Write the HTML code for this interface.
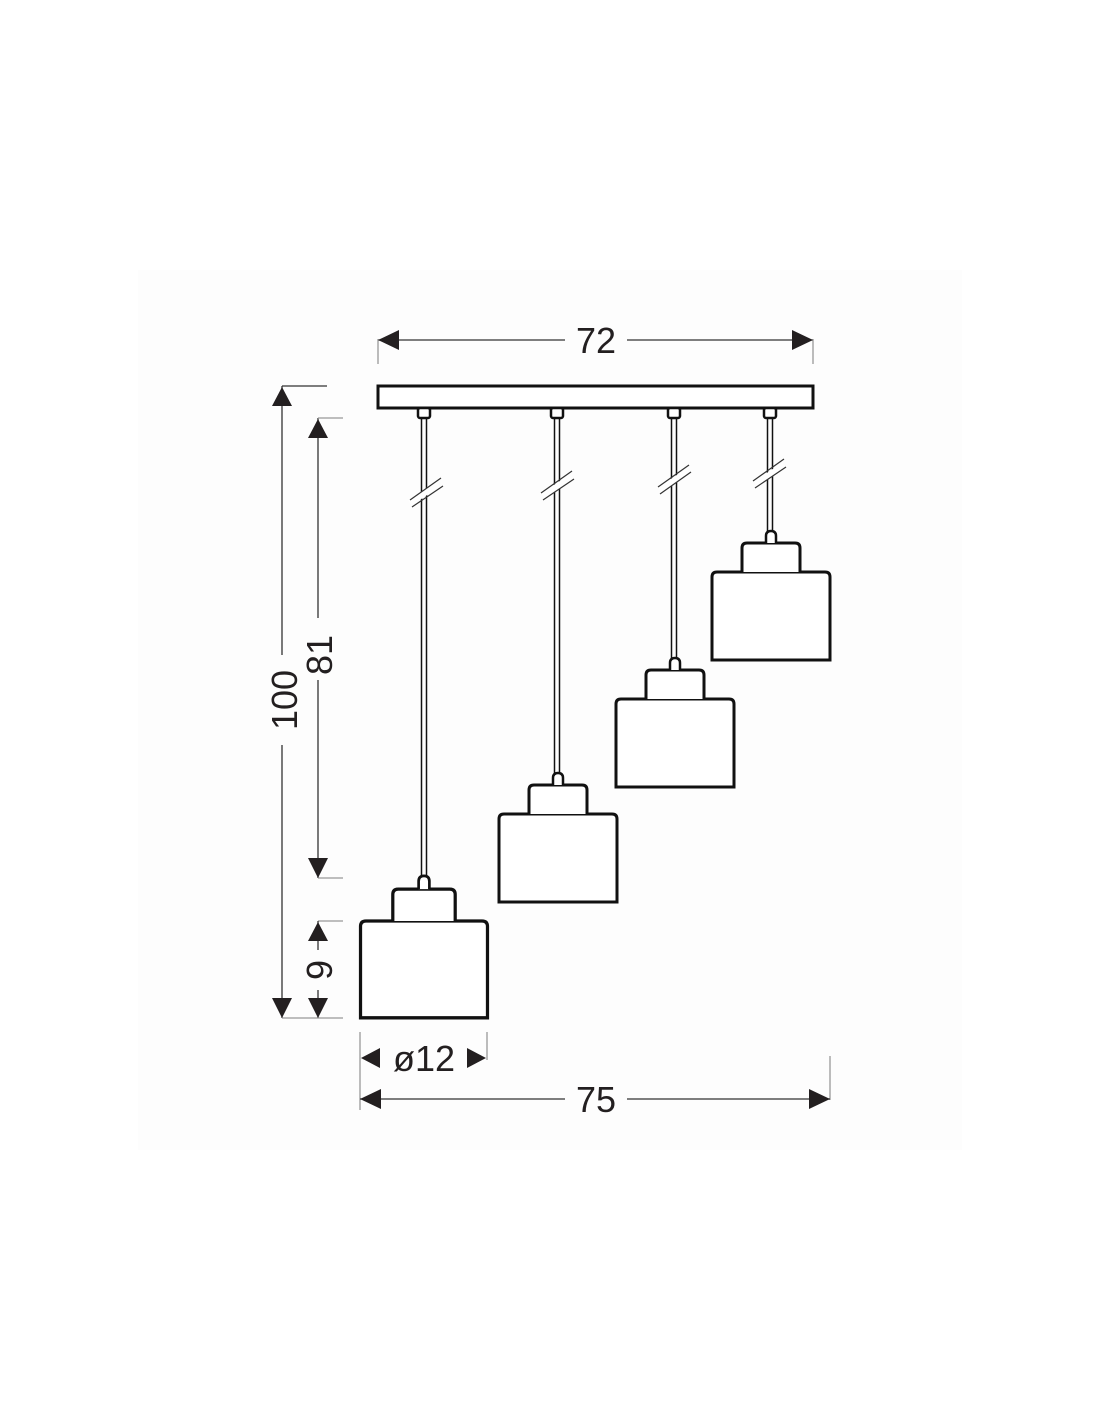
<!DOCTYPE html>
<html><head><meta charset="utf-8"><style>html,body{margin:0;padding:0;background:#fff}svg{display:block}text{font-family:"Liberation Sans",sans-serif;fill:#231f20}</style></head>
<body>
<svg width="1100" height="1422" viewBox="0 0 1100 1422" xmlns="http://www.w3.org/2000/svg">
<rect x="138" y="270" width="824" height="880" fill="#fdfdfd"/>
<defs>
<g id="lamp" fill="#fff" stroke="#111" stroke-width="3">
<!-- body width 118 centered at 0, top at 0, height 88 -->
<path d="M-59,88 V5 Q-59,0 -54,0 H54 Q59,0 59,5 V88 Z"/>
<path d="M-29,0 V-24 Q-29,-29 -24,-29 H24 Q29,-29 29,-24 V0"/>
<path d="M-5,-29 V-36 Q-5,-41 0,-41 Q5,-41 5,-36 V-29" stroke-width="2.5"/>
</g>
</defs>
<!-- bar -->
<rect x="378" y="386" width="435" height="22" fill="#fff" stroke="#111" stroke-width="3"/>
<g fill="#fff" stroke="#111" stroke-width="2.5">
<rect x="418" y="408" width="12" height="10" rx="2"/>
<rect x="551" y="408" width="12" height="10" rx="2"/>
<rect x="668" y="408" width="12" height="10" rx="2"/>
<rect x="764" y="408" width="12" height="10" rx="2"/>
</g>
<!-- cords (double lines) -->
<g stroke="#111" stroke-width="1.5">
<line x1="421.5" y1="418" x2="421.5" y2="879"/><line x1="426.5" y1="418" x2="426.5" y2="879"/>
<line x1="554.5" y1="418" x2="554.5" y2="774"/><line x1="559.5" y1="418" x2="559.5" y2="774"/>
<line x1="671.5" y1="418" x2="671.5" y2="661"/><line x1="676.5" y1="418" x2="676.5" y2="661"/>
<line x1="767.5" y1="418" x2="767.5" y2="534"/><line x1="772.5" y1="418" x2="772.5" y2="534"/>
</g>
<!-- break marks -->
<g stroke="#fff" stroke-width="6">
<line x1="410" y1="503" x2="438" y2="484"/>
<line x1="543" y1="496" x2="571" y2="477"/>
<line x1="660" y1="490" x2="688" y2="471"/>
<line x1="756" y1="484" x2="784" y2="465"/>
</g>
<g stroke="#333" stroke-width="1.2">
<line x1="410" y1="500" x2="441" y2="478"/><line x1="412" y1="507" x2="443" y2="486"/>
<line x1="541" y1="493" x2="572" y2="471"/><line x1="543" y1="500" x2="574" y2="479"/>
<line x1="658" y1="487" x2="689" y2="465"/><line x1="660" y1="494" x2="691" y2="472"/>
<line x1="753" y1="481" x2="784" y2="459"/><line x1="755" y1="488" x2="786" y2="467"/>
</g>
<!-- lamps -->
<use href="#lamp" transform="translate(424,921) scale(1.076,1.1)"/>
<use href="#lamp" transform="translate(558,814)"/>
<use href="#lamp" transform="translate(675,699)"/>
<use href="#lamp" transform="translate(771,572)"/>
<!-- dimension lines -->
<g stroke="#333" stroke-width="1.3" fill="none">
<line x1="378" y1="340" x2="565" y2="340"/><line x1="627" y1="340" x2="813" y2="340"/>
<line x1="378" y1="339" x2="378" y2="364" stroke="#999"/><line x1="813" y1="339" x2="813" y2="364" stroke="#999"/>
<line x1="282" y1="386" x2="282" y2="655"/><line x1="282" y1="745" x2="282" y2="1018"/>
<line x1="282" y1="386" x2="327" y2="386"/>
<line x1="318" y1="418" x2="318" y2="618"/><line x1="318" y1="680" x2="318" y2="878"/>
<line x1="318" y1="418" x2="343" y2="418" stroke="#999"/><line x1="318" y1="878" x2="343" y2="878" stroke="#999"/>
<line x1="318" y1="921" x2="343" y2="921" stroke="#999"/>
<line x1="318" y1="921" x2="318" y2="950"/><line x1="318" y1="990" x2="318" y2="1018"/>
<line x1="282" y1="1018" x2="343" y2="1018" stroke="#999"/>
<line x1="360" y1="1032" x2="360" y2="1110" stroke="#999"/>
<line x1="487" y1="1032" x2="487" y2="1060" stroke="#999"/>
<line x1="830" y1="1056" x2="830" y2="1100" stroke="#999"/>
<line x1="360" y1="1099" x2="565" y2="1099"/><line x1="627" y1="1099" x2="830" y2="1099"/>
</g>
<g fill="#231f20">
<polygon points="378,340 399,330 399,350"/><polygon points="813,340 792,330 792,350"/>
<polygon points="282,387 272,406 292,406"/><polygon points="282,1018 272,998 292,998"/>
<polygon points="318,419 308,438 328,438"/><polygon points="318,878 308,858 328,858"/>
<polygon points="318,922 308,941 328,941"/><polygon points="318,1018 308,998 328,998"/>
<polygon points="361,1058 380,1048 380,1068"/><polygon points="486,1058 467,1048 467,1068"/>
<polygon points="360,1099 381,1089 381,1109"/><polygon points="830,1099 809,1089 809,1109"/>
</g>
<text x="596" y="353" font-size="36" text-anchor="middle">72</text>
<text x="596" y="1112" font-size="36" text-anchor="middle">75</text>
<text x="424" y="1071" font-size="36" text-anchor="middle">ø12</text>
<text transform="translate(297,700) rotate(-90)" font-size="36" text-anchor="middle">100</text>
<text transform="translate(332,655) rotate(-90)" font-size="36" text-anchor="middle">81</text>
<text transform="translate(332,970) rotate(-90)" font-size="36" text-anchor="middle">9</text>
</svg>
</body></html>
